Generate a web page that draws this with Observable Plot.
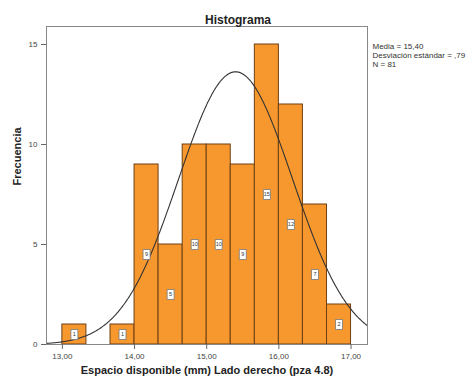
<!DOCTYPE html>
<html><head><meta charset="utf-8">
<script src="https://cdn.jsdelivr.net/npm/d3@7"></script>
<script src="https://cdn.jsdelivr.net/npm/@observablehq/plot@0.6"></script>
<style>body{margin:0;background:#fff;} svg{display:block;}</style>
</head><body><div id="chart"></div>
<script>
const binEdges = [13.00, 13.333, 13.667, 14.00, 14.333, 14.667, 15.00, 15.333, 15.667, 16.00, 16.333, 16.667, 17.00];
const counts = [1, 0, 1, 9, 5, 10, 10, 9, 15, 12, 7, 2];
const xTicks = [13, 14, 15, 16, 17];
const yTicks = [0, 5, 10, 15];
const stats = {mean: 15.40, sd: 0.79, n: 81};
const legendLines = ["Media = 15,40", "Desviación estándar = ,79", "N = 81"];
const titleText = "Histograma";
const xLabel = "Espacio disponible (mm) Lado derecho (pza 4.8)";
const yLabel = "Frecuencia";

const bins = counts.map((c, i) => ({x1: binEdges[i], x2: binEdges[i + 1], y: c})).filter(d => d.y > 0);
const bw = 1 / 3;
const curve = d3.range(12.78, 17.235, 0.01).map(x => ({
  x, y: stats.n * bw * Math.exp(-0.5 * ((x - stats.mean) / stats.sd) ** 2) / (stats.sd * Math.sqrt(2 * Math.PI))
}));
const fmt = v => d3.format(".2f")(v).replace(".", ",");
const boxSymbol = {draw(ctx) { ctx.rect(-3.5, -5, 7, 10); }};
const font = "Liberation Sans, Arial, sans-serif";

const plot = Plot.plot({
  width: 473, height: 381,
  marginLeft: 46, marginRight: 106, marginTop: 26, marginBottom: 37,
  style: {fontFamily: font, background: "#fff"},
  x: {domain: [12.78, 17.228]},
  y: {domain: [0, 15.9]},
  marks: [
    Plot.rect(bins, {x1: "x1", x2: "x2", y1: 0, y2: "y", fill: "#F7982F", stroke: "#6e3f14", strokeWidth: 1}),
    Plot.line(curve, {x: "x", y: "y", stroke: "#333", strokeWidth: 1.1, clip: true}),
    Plot.dot(bins, {x: d => (d.x1 + d.x2) / 2, y: d => d.y / 2, symbol: boxSymbol, fill: "#fff", stroke: "#777", strokeWidth: 0.8}),
    Plot.text(bins, {x: d => (d.x1 + d.x2) / 2, y: d => d.y / 2, text: d => String(d.y), fontSize: 5.5, fill: "#333"}),
    Plot.frame({stroke: "#888"}),
    Plot.axisX({ticks: xTicks, tickFormat: fmt, tickSize: 5, fontSize: 8, fill: "#444", stroke: "#666", label: null}),
    Plot.axisY({ticks: yTicks, tickFormat: d => String(d), tickSize: 5, fontSize: 8, fill: "#444", stroke: "#666", label: null}),
    Plot.text([titleText], {frameAnchor: "top", dx: 31, dy: -11, fontSize: 12, fontWeight: "bold", fill: "#222"}),
    Plot.text([xLabel], {frameAnchor: "bottom", dy: 29, fontSize: 11, fontWeight: "bold", fill: "#222"}),
    Plot.text([yLabel], {frameAnchor: "left", dx: -29, rotate: -90, fontSize: 11, fontWeight: "bold", fill: "#222"}),
    Plot.text([legendLines.join("\n")], {frameAnchor: "top-right", dx: 5, dy: 16, textAnchor: "start", lineAnchor: "top", lineHeight: 1.125, fontSize: 8, fill: "#333"})
  ]
});
document.getElementById("chart").appendChild(plot);
</script></body></html>
